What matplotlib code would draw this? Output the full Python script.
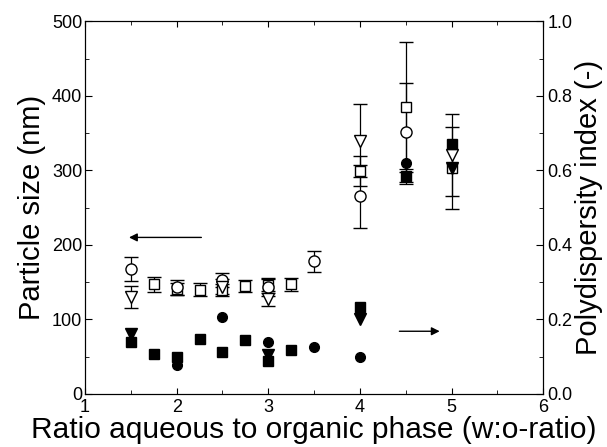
import numpy as np
import matplotlib
matplotlib.use("Agg")
import matplotlib.pyplot as plt
from matplotlib.ticker import MultipleLocator, FormatStrFormatter

plt.rcParams['font.family'] = ['Liberation Sans', 'DejaVu Sans']

# --------- Particle size (left axis, open markers) ---------
sq_x = [1.75, 2.0, 2.25, 2.5, 2.75, 3.0, 3.25, 4.0, 4.5, 5.0]
sq_size = [147, 141, 140, 140, 145, 146, 147, 299, 385, 303]
sq_err = [10, 8, 9, 8, 8, 8, 9, 20, 87, 55]

ci_x = [1.5, 2.0, 2.5, 3.0, 3.5, 4.0, 4.5]
ci_size = [168, 143, 153, 144, 178, 265, 351]
ci_err = [16, 10, 9, 12, 14, 42, 66]

tr_x = [1.5, 2.5, 3.0, 4.0, 5.0]
tr_size = [130, 144, 127, 340, 321]
tr_err = [15, 10, 9, 49, 55]

# --------- Polydispersity index (right axis, filled markers) ---------
fsq_x = [1.5, 1.75, 2.0, 2.25, 2.5, 2.75, 3.0, 3.25, 4.0, 4.5, 5.0]
fsq_pdi = [0.14, 0.107, 0.10, 0.147, 0.111, 0.145, 0.089, 0.118, 0.233, 0.584, 0.67]
fsq_err = [0, 0, 0, 0, 0, 0, 0, 0, 0, 0.02, 0]

fci_x = [2.0, 2.5, 3.0, 3.5, 4.0, 4.5]
fci_pdi = [0.078, 0.205, 0.139, 0.127, 0.10, 0.62]

ftr_x = [1.5, 3.0, 4.0, 5.0]
ftr_pdi = [0.16, 0.105, 0.20, 0.606]

fig = plt.figure(figsize=(6.07, 4.47), dpi=100)
ax = fig.add_axes([0.140, 0.119, 0.755, 0.833])
ax2 = ax.twinx()

ebkw = dict(ecolor='black', elinewidth=0.9, capsize=5, capthick=0.9)

ax.errorbar(sq_x, sq_size, yerr=sq_err, marker='s', ms=7.5, mfc='white', mec='black', mew=1.0, linestyle='none', **ebkw)
ax.errorbar(ci_x, ci_size, yerr=ci_err, marker='o', ms=8, mfc='white', mec='black', mew=1.0, linestyle='none', **ebkw)
ax.errorbar(tr_x, tr_size, yerr=tr_err, marker='v', ms=9, mfc='white', mec='black', mew=1.0, linestyle='none', **ebkw)

# only points with a real PDI error get bars
has_err = [e > 0 for e in fsq_err]
ax2.errorbar([x for x, h in zip(fsq_x, has_err) if h],
             [p for p, h in zip(fsq_pdi, has_err) if h],
             yerr=[e for e in fsq_err if e > 0], fmt='none', **ebkw)
ax2.plot(fsq_x, fsq_pdi, 's', ms=6.5, color='black', linestyle='none')
ax2.plot(fci_x, fci_pdi, 'o', ms=7, color='black', linestyle='none')
ax2.plot(ftr_x, ftr_pdi, 'v', ms=8, color='black', linestyle='none')

ax.set_xlim(1, 6)
ax.set_ylim(0, 500)
ax2.set_ylim(0, 1.0)

ax.xaxis.set_major_locator(MultipleLocator(1))
ax.xaxis.set_minor_locator(MultipleLocator(0.5))
ax.yaxis.set_major_locator(MultipleLocator(100))
ax.yaxis.set_minor_locator(MultipleLocator(50))
ax2.yaxis.set_major_locator(MultipleLocator(0.2))
ax2.yaxis.set_minor_locator(MultipleLocator(0.1))
ax2.yaxis.set_major_formatter(FormatStrFormatter('%.1f'))

ax.tick_params(axis='x', which='major', direction='out', length=5, labelsize=13, pad=4)
ax.tick_params(axis='x', which='minor', direction='out', length=3)
ax.tick_params(axis='y', which='major', direction='out', length=5, labelsize=13, pad=2)
ax.tick_params(axis='y', which='minor', direction='out', length=3)
ax2.tick_params(axis='y', which='major', direction='in', length=5, labelsize=13, pad=3)
ax2.tick_params(axis='y', which='minor', direction='in', length=3)
ax.tick_params(top=True, which='both', direction='in')
ax.tick_params(axis='x', which='major', top=True, length=4)

ax.set_xlabel('Ratio aqueous to organic phase (w:o-ratio)', fontsize=21.5, labelpad=0)
ax.set_ylabel('Particle size (nm)', fontsize=21, labelpad=4)
ax2.set_ylabel('Polydispersity index (-)', fontsize=21, labelpad=2)

# arrows pointing to the relevant axis
ax.annotate('', xy=(1.45, 210), xytext=(2.3, 210),
            arrowprops=dict(arrowstyle='-|>', color='black', lw=1.0, mutation_scale=12))
ax.annotate('', xy=(4.9, 84), xytext=(4.4, 84),
            arrowprops=dict(arrowstyle='-|>', color='black', lw=1.0, mutation_scale=12))

fig.savefig('out.png', dpi=100)
